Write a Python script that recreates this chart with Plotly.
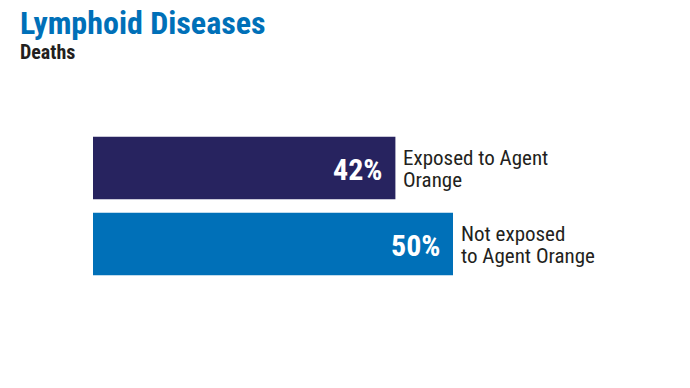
import plotly.graph_objects as go

categories = ["Exposed to Agent<br>Orange", "Not exposed<br>to Agent Orange"]
values = [42, 50]
value_labels = ["42%", "50%"]
colors = ["#27235f", "#0070b8"]
title = "Lymphoid Diseases"
subtitle = "Deaths"

FONT = "Roboto Condensed, Liberation Sans, sans-serif"

# figure geometry (the page body adds an 8px margin)
W, H = 682, 380
L, R, T, B = 85, 0, 122, 106
pw = W - L - R
ph = H - T - B

def px(x):
    return (x - L) / pw

def py(y):
    return 1 - (y - T) / ph

fig = go.Figure()
fig.add_trace(go.Bar(
    y=list(range(len(values))),
    x=values,
    orientation="h",
    marker=dict(color=colors, line=dict(width=0)),
    hoverinfo="skip",
))

for i, (cat, v, lab) in enumerate(zip(categories, values, value_labels)):
    fig.add_annotation(
        x=v, y=i, xref="x", yref="y", text=f"<b>{lab}</b>", showarrow=False,
        xanchor="right", yanchor="middle", xshift=-11, yshift=-1,
        font=dict(family=FONT, size=30, color="white"),
    )
    lines = cat.split("<br>")
    shifts = [10, -12]
    for ln, ys in zip(lines, shifts):
        fig.add_annotation(
            x=v, y=i, xref="x", yref="y",
            text=ln, showarrow=False,
            xanchor="left", yanchor="middle", xshift=6, yshift=ys, align="left",
            font=dict(family=FONT, size=21, color="#231f20"),
        )

fig.add_annotation(
    xref="paper", yref="paper", x=px(10), y=py(36),
    text=f"<b>{title}</b>", showarrow=False, xanchor="left", yanchor="bottom",
    font=dict(family=FONT, size=32, color="#0070b8"),
)
fig.add_annotation(
    xref="paper", yref="paper", x=px(10), y=py(58),
    text=f"<b>{subtitle}</b>", showarrow=False, xanchor="left", yanchor="bottom",
    font=dict(family=FONT, size=20, color="#231f20"),
)

fig.update_layout(
    width=W, height=H,
    margin=dict(l=L, r=R, t=T, b=B),
    paper_bgcolor="white", plot_bgcolor="white",
    showlegend=False,
    bargap=0.18,
    xaxis=dict(range=[0, pw / 7.2], visible=False, fixedrange=True),
    yaxis=dict(range=[1.5, -0.5], visible=False, fixedrange=True),
)

fig.write_html("out.html")
